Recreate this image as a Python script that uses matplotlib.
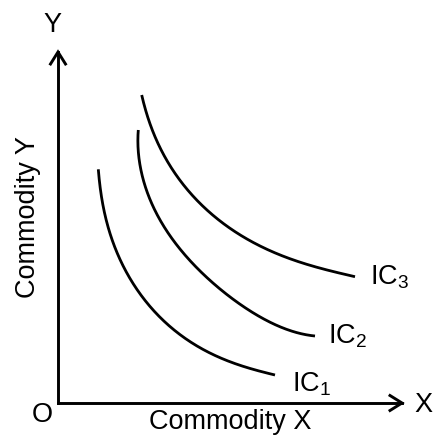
import matplotlib
matplotlib.use("Agg")
import matplotlib.pyplot as plt
import numpy as np

plt.rcParams['font.family'] = ['Liberation Sans', 'DejaVu Sans']
plt.rcParams['mathtext.fontset'] = 'custom'
plt.rcParams['mathtext.rm'] = 'Liberation Sans'
plt.rcParams['mathtext.it'] = 'Liberation Sans'

# Indifference curves (x, y measured from origin O)
ic1_x = [40.3, 43.7, 50.3, 62, 82, 108.7, 142, 182, 217]
ic1_y = [233.7, 206.3, 174.7, 143, 109.7, 79.7, 54.7, 38, 28]
ic2_x = [80.3, 85.3, 95.3, 107, 125.3, 152, 185.3, 222, 257]
ic2_y = [273, 223, 196.3, 174.7, 149.7, 123, 96.3, 76.3, 67]
ic3_x = [83.7, 98.7, 118.7, 142, 175.3, 208.7, 242, 275.3, 297]
ic3_y = [308, 263, 226.3, 200, 173, 153, 141.3, 131.3, 126.3]
labels = ["IC$_1$", "IC$_2$", "IC$_3$"]
label_pos = [(233.7, 11.3), (270, 59.7), (312, 118.5)]


def smooth_curve(xs, ys, deg=5, n=300):
    xs = np.asarray(xs, float); ys = np.asarray(ys, float)
    t = np.concatenate([[0], np.cumsum(np.hypot(np.diff(xs), np.diff(ys)))])
    t = t / t[-1]
    w = np.ones_like(t); w[0] = w[-1] = 10
    cx = np.polyfit(t, xs, deg, w=w); cy = np.polyfit(t, ys, deg, w=w)
    tt = np.linspace(0, 1, n)
    return np.polyval(cx, tt), np.polyval(cy, tt)


fig = plt.figure(figsize=(4.35, 4.36), dpi=100)
ax = fig.add_axes([0, 0, 1, 1])
ax.set_xlim(-58, 377)
ax.set_ylim(-33, 403)
ax.axis('off')

lw = 2.0
for xs, ys in [(ic1_x, ic1_y), (ic2_x, ic2_y), (ic3_x, ic3_y)]:
    sx, sy = smooth_curve(xs, ys)
    ax.plot(sx, sy, color='black', lw=lw, solid_capstyle='butt')

for lab, (lx, ly) in zip(labels, label_pos):
    ax.text(lx, ly, lab, fontsize=19.5, ha='left', va='baseline')

# axes lines with open chevron arrowheads
alw = 2.1
ax.plot([0, 344], [0, 0], color='black', lw=alw, solid_capstyle='projecting')
ax.plot([0, 0], [0, 351], color='black', lw=alw, solid_capstyle='projecting')
ax.plot([332, 344, 332], [7.5, 0, -7.5], color='black', lw=alw, solid_joinstyle='miter')
ax.plot([-7.5, 0, 7.5], [339, 351, 339], color='black', lw=alw, solid_joinstyle='miter')

ax.text(-6, 371.5, 'Y', fontsize=19.5, ha='center', va='baseline')
ax.text(365, -2, 'X', fontsize=19.5, ha='center', va='center')
ax.text(-16, -12, 'O', fontsize=19.5, ha='center', va='center')
ax.text(172, -19, 'Commodity X', fontsize=19.5, ha='center', va='center')
ax.text(-30, 186, 'Commodity Y', fontsize=19.5, ha='center', va='center', rotation=90)

fig.savefig('out.png', dpi=100)
